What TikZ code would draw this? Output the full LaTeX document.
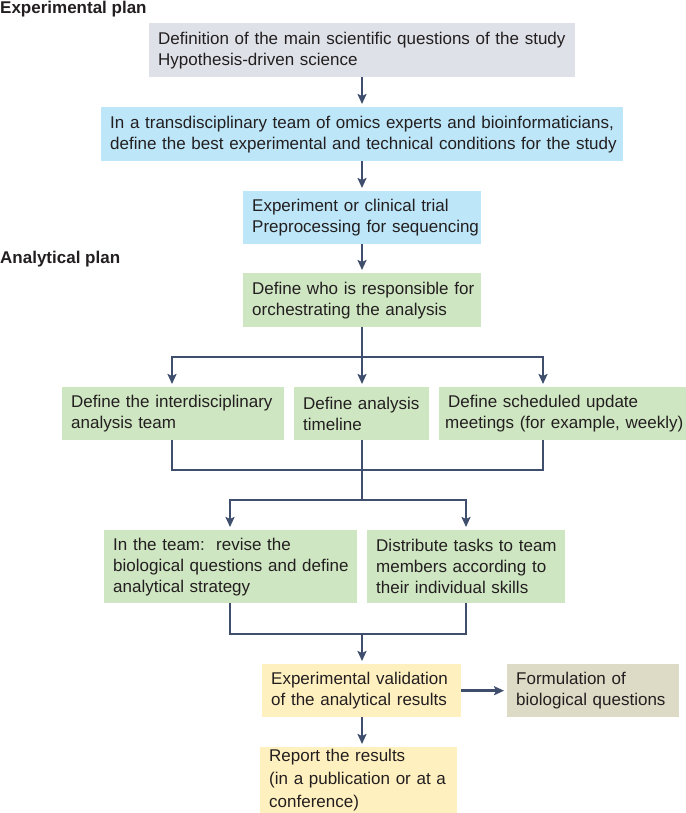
\documentclass[tikz,border=0pt]{standalone}
\usepackage{fontspec}
\setmainfont{Liberation Sans}
\usetikzlibrary{arrows.meta,calc}
\definecolor{cgray}{RGB}{222,225,231}
\definecolor{cblue}{RGB}{189,230,248}
\definecolor{cgreen}{RGB}{207,230,194}
\definecolor{cyellow}{RGB}{255,240,192}
\definecolor{ctan}{RGB}{221,219,197}
\definecolor{carrow}{RGB}{62,78,108}
\definecolor{ctext}{RGB}{35,31,32}
\begin{document}
\begin{tikzpicture}[x=1pt,y=-1pt,
  box/.style={anchor=north west, inner xsep=9pt, inner ysep=0pt, align=left,
    text=ctext, font=\fontsize{17}{21}\selectfont},
  title/.style={anchor=base west, inner sep=0pt, text=ctext,
    font=\bfseries\fontsize{17}{21}\selectfont},
  conn/.style={draw=carrow, line width=2.6pt},
  arr/.style={conn, -{Stealth[length=10pt,width=9pt,inset=2pt]}, shorten >=3pt},
]
\useasboundingbox (0,0) rectangle (685,813);

% titles
\node[title] (t1) at (0,14) {Experimental plan};
\node[title] (t2) at (0,263) {Analytical plan};

% boxes
\node[box, fill=cgray, text width=408pt, minimum height=54pt] (b1) at (149,23)
  {\mbox{Definition of the main scientific questions of the study}\\\mbox{Hypothesis-driven science}};
\node[box, fill=cblue, text width=504pt, minimum height=54pt] (b2) at (101,107)
  {\mbox{In a transdisciplinary team of omics experts and bioinformaticians,}\\\mbox{define the best experimental and technical conditions for the study}};
\node[box, fill=cblue, text width=220pt, minimum height=53pt] (b3) at (243,191)
  {\mbox{Experiment or clinical trial}\\\mbox{Preprocessing for sequencing}};
\node[box, fill=cgreen, text width=220pt, minimum height=54pt] (b4) at (243,273)
  {\mbox{Define who is responsible for}\\\mbox{orchestrating the analysis}};

\node[box, fill=cgreen, text width=204pt, minimum height=53pt] (b5) at (62,387)
  {\mbox{Define the interdisciplinary}\\\mbox{analysis team}};
\node[box, fill=cgreen, text width=117pt, minimum height=53pt] (b6) at (294,387)
  {\mbox{Define analysis}\\\mbox{timeline}};
\node[box, fill=cgreen, inner xsep=6pt, text width=240pt, minimum height=53pt] (b7) at (439,387)
  {\mbox{\hspace{3pt}Define scheduled update}\\\mbox{meetings (for example, weekly)}};

\node[box, fill=cgreen, text width=235pt, minimum height=73pt] (b8) at (104,530)
  {\mbox{In the team:\ \ revise the}\\\mbox{biological questions and define}\\\mbox{analytical strategy}};
\node[box, fill=cgreen, text width=180pt, minimum height=73pt] (b9) at (367,530)
  {\mbox{Distribute tasks to team}\\\mbox{members according to}\\\mbox{their individual skills}};

\node[box, fill=cyellow, text width=181pt, minimum height=53pt] (b10) at (262,664)
  {\mbox{Experimental validation}\\\mbox{of the analytical results}};
\node[box, fill=ctan, text width=154pt, minimum height=53pt] (b11) at (507,664)
  {\mbox{Formulation of}\\\mbox{biological questions}};
\node[box, fill=cyellow, text width=179pt, minimum height=66pt,
  font=\fontsize{17}{23}\selectfont] (b12) at (260,747)
  {\mbox{Report the results}\\\mbox{(in a publication or at a}\\\mbox{conference)}};

% junction coordinates
\coordinate (s1)  at (362,357);
\coordinate (s1l) at (172,357);
\coordinate (s1r) at (543,357);
\coordinate (m1)  at (362,470);
\coordinate (m1l) at (172,470);
\coordinate (m1r) at (543,470);
\coordinate (s2)  at (362,500);
\coordinate (s2l) at (230,500);
\coordinate (s2r) at (466,500);
\coordinate (m2)  at (362,634);
\coordinate (m2l) at (230,634);
\coordinate (m2r) at (466,634);

% connectors
\draw[arr] (b1.south -| s1) -- (b2.north -| s1);
\draw[arr] (b2.south -| s1) -- (b3.north -| s1);
\draw[arr] (b3.south -| s1) -- (b4.north -| s1);

\draw[conn] (b4.south -| s1) -- (s1);
\draw[arr] (s1) -- (s1l) -- (b5.north -| s1l);
\draw[arr] (s1) -- (s1r) -- (b7.north -| s1r);
\draw[arr] (s1) -- (b6.north -| s1);

\draw[conn] (b5.south -| m1l) -- (m1l) -- (m1r) -- (b7.south -| m1r);
\draw[conn] (b6.south -| m1) -- (s2);
\draw[arr] (s2) -- (s2l) -- (b8.north -| s2l);
\draw[arr] (s2) -- (s2r) -- (b9.north -| s2r);

\draw[conn] (b8.south -| m2l) -- (m2l) -- (m2r) -- (b9.south -| m2r);
\draw[arr] (m2) -- (b10.north -| m2);
\draw[arr] (b10.east) -- (b11.west);
\draw[arr] (b10.south -| m2) -- (b12.north -| m2);
\end{tikzpicture}
\end{document}
